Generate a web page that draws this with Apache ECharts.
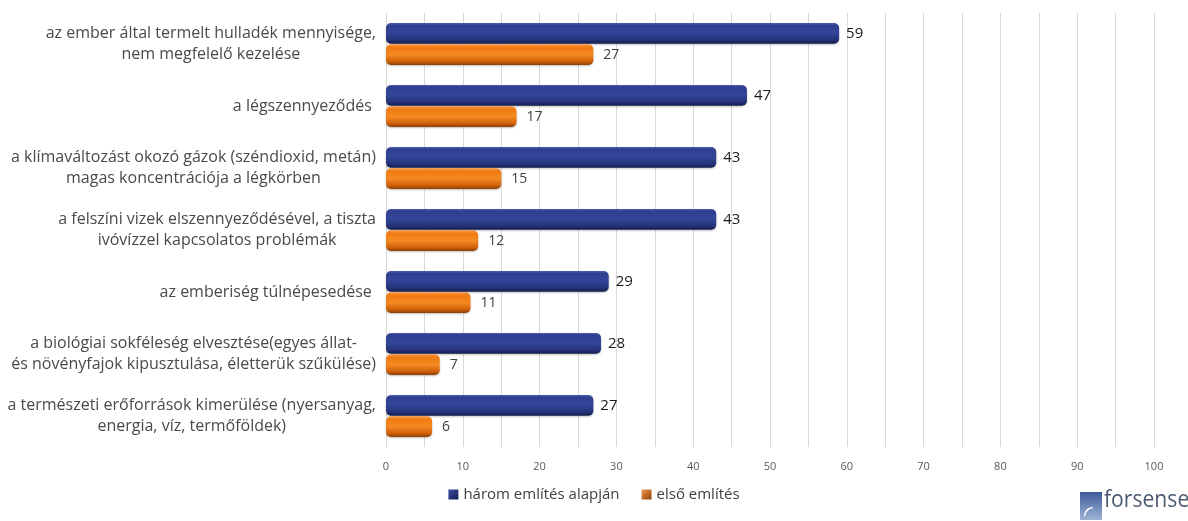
<!DOCTYPE html>
<html><head><meta charset="utf-8">
<script src="https://cdn.jsdelivr.net/npm/echarts@6/dist/echarts.min.js"></script>
<style>html,body{margin:0;padding:0;background:#fff}#c{width:1188px;height:521px}</style>
</head><body><div id="c"></div>
<script>
const categories = [
  "az ember által termelt hulladék mennyisége,\nnem megfelelő kezelése",
  "a légszennyeződés ",
  "a klímaváltozást okozó gázok (széndioxid, metán)\nmagas koncentrációja a légkörben",
  "a felszíni vizek elszennyeződésével, a tiszta\nivóvízzel kapcsolatos problémák",
  "az emberiség túlnépesedése ",
  "a biológiai sokféleség elvesztése(egyes állat-\nés növényfajok kipusztulása, életterük szűkülése)",
  "a természeti erőforrások kimerülése (nyersanyag,\nenergia, víz, termőföldek)"
];
const seriesNames = ["három említés alapján", "első említés"];
const threeMentions = [59, 47, 43, 43, 29, 28, 27];
const firstMention = [27, 17, 15, 12, 11, 7, 6];
const xTicks = [0, 10, 20, 30, 40, 50, 60, 70, 80, 90, 100];

const FONT = '"Open Sans", Lato, sans-serif';
const blueGrad = new echarts.graphic.LinearGradient(0,0,0,1,[
  {offset:0,color:'#4a5cae'},{offset:0.12,color:'#2f3f8f'},{offset:0.45,color:'#33469a'},
  {offset:0.8,color:'#25347a'},{offset:1,color:'#141d4d'}]);
const orangeGrad = new echarts.graphic.LinearGradient(0,0,0,1,[
  {offset:0,color:'#f79a4a'},{offset:0.15,color:'#f07b12'},{offset:0.5,color:'#f58a22'},
  {offset:0.82,color:'#d0620a'},{offset:1,color:'#8a3e05'}]);
const blueIcon = new echarts.graphic.LinearGradient(0,0,1,1,[{offset:0,color:'#3a4fa8'},{offset:1,color:'#141d4d'}]);
const orangeIcon = new echarts.graphic.LinearGradient(0,0,1,1,[{offset:0,color:'#f79a4a'},{offset:1,color:'#8a3e05'}]);

const chart = echarts.init(document.getElementById('c'), null, {renderer:'canvas'});
chart.setOption({
  animation:false,
  textStyle:{fontFamily:FONT},
  grid:{left:386, right:34, top:13, bottom:74, containLabel:false},
  legend:{
    bottom:14, left:'center', itemWidth:10, itemHeight:10, itemGap:22,
    textStyle:{fontFamily:FONT, fontSize:15, color:'#404040'},
    data:[{name:seriesNames[0], icon:'rect', itemStyle:{color:blueIcon}},
          {name:seriesNames[1], icon:'rect', itemStyle:{color:orangeIcon}}]
  },
  xAxis:{
    type:'value', min:0, max:100, interval:5,
    axisLine:{show:false}, axisTick:{show:false},
    splitLine:{show:true, lineStyle:{color:'#d9d9d9', width:1}},
    axisLabel:{
      fontFamily:FONT, fontSize:11, color:'#595959', margin:14,
      formatter:function(v){ return xTicks.indexOf(v) >= 0 ? String(v) : ''; }
    }
  },
  yAxis:{
    type:'category', data:categories, inverse:true,
    axisLine:{show:false}, axisTick:{show:false},
    axisLabel:{
      margin:10, align:'right',
      formatter:function(v){ return v.split('\n').map(function(l){return '{c|'+l+'}';}).join('\n'); },
      rich:{c:{fontFamily:FONT, fontSize:16, color:'#4a4a4a', align:'center', lineHeight:21}}
    }
  },
  series:[
    {
      name:seriesNames[0], type:'bar', data:threeMentions,
      barGap:'2%', barCategoryGap:'32%',
      itemStyle:{color:blueGrad, borderRadius:5, shadowColor:'rgba(0,0,0,0.25)', shadowBlur:2, shadowOffsetY:1},
      label:{show:true, position:'right', distance:7, fontFamily:FONT, fontSize:15, color:'#1a1a1a'}
    },
    {
      name:seriesNames[1], type:'bar', data:firstMention,
      itemStyle:{color:orangeGrad, borderRadius:5, shadowColor:'rgba(0,0,0,0.25)', shadowBlur:2, shadowOffsetY:1},
      label:{show:true, position:'right', distance:10, fontFamily:FONT, fontSize:14, color:'#404040'}
    }
  ],
  graphic:[
    {type:'rect', left:1080, top:492, shape:{width:22, height:28},
      style:{fill:new echarts.graphic.LinearGradient(0,0,0,1,[{offset:0,color:'#3c5a9a'},{offset:1,color:'#9fb4d6'}])}},
    {type:'arc', left:1082, top:505, shape:{cx:0, cy:0, r:10, startAngle:Math.PI*1.05, endAngle:Math.PI*1.45}, style:{stroke:'#ffffff', lineWidth:1.5, fill:null}},
    {type:'text', x:1104, y:488, scaleX:0.88, style:{text:'forsense', fontFamily:FONT, fontSize:24, fill:'#4d5b72'}}
  ]
});
</script></body></html>
